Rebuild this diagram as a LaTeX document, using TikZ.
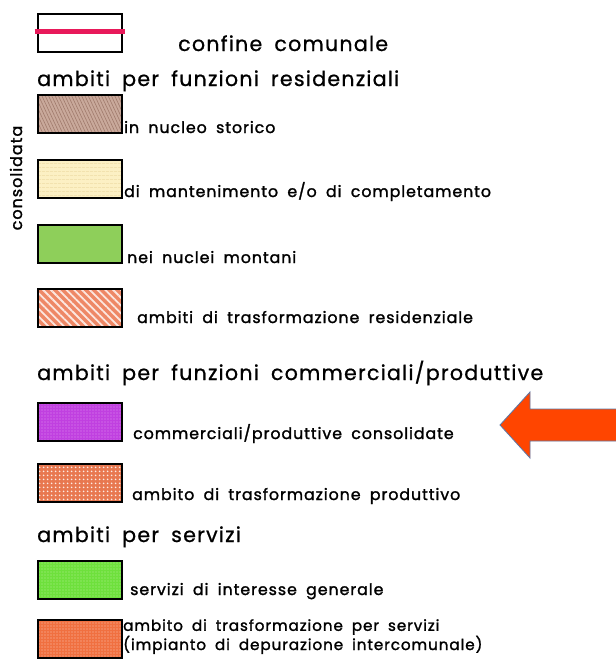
\documentclass[tikz,border=0pt]{standalone}
\usepackage{fontspec}
\newfontfamily\cadfont{Poppins}[LetterSpace=6,WordSpace=1.8,FakeBold=0.8]
\newfontfamily\cadbold{Poppins}[LetterSpace=6,WordSpace=1.8,FakeBold=1.5]
\usetikzlibrary{patterns.meta}

% legend colours
\definecolor{confred}{HTML}{E8195A}
\definecolor{storico}{HTML}{C9A99B}
\definecolor{storicoln}{HTML}{A07A6C}
\definecolor{manten}{HTML}{FCF0C4}
\definecolor{mantenln}{HTML}{EEDCA4}
\definecolor{montani}{HTML}{8ECF5A}
\definecolor{trasres}{HTML}{EE8866}
\definecolor{commcons}{HTML}{C040E0}
\definecolor{commdot}{HTML}{E090F0}
\definecolor{trasprod}{HTML}{E87850}
\definecolor{servgen}{HTML}{6EE03C}
\definecolor{servdot}{HTML}{B0F090}
\definecolor{trasserv}{HTML}{F07040}
\definecolor{arrowfill}{HTML}{FF4500}
\definecolor{arrowline}{HTML}{5A78A8}

\begin{document}
\begin{tikzpicture}[x=1pt,y=-1pt,
  swatch/.style={draw=black, line width=2pt, minimum width=84pt,
    minimum height=38pt, inner sep=0pt},
  hatched/.style={postaction={pattern={#1}},
    postaction={draw=black, line width=2pt}},
  heading/.style={anchor=base west, inner sep=0pt,
    font=\cadfont\fontsize{20.6}{24}\selectfont},
  lbl/.style={anchor=base west, inner sep=0pt,
    font=\cadbold\fontsize{15.8}{18}\selectfont}]

  \useasboundingbox[fill=white] (0,0) rectangle (616,659);

%%%%%%%%%%%%%%%%%%%%%%%%%%%%%%%%%%%%%%%%%%
  % Boundary
  \node[swatch, fill=white] (confine) at (79.5,33) {};
  \draw[confred, line width=5pt]
    ([xshift=-2pt,yshift=2pt]confine.west) -- ([xshift=2pt,yshift=2pt]confine.east);
  \node[heading] (confineLbl) at (178,51) {confine comunale};

%%%%%%%%%%%%%%%%%%%%%%%%%%%%%%%%%%%%%%%%%%
  % Residential
  \node[heading] (resTitle) at (37,86) {ambiti per funzioni residenziali};

  \node[swatch, fill=storico, pattern color=storicoln,
    hatched={Lines[angle=-65,distance=3pt,line width=0.6pt]}] (storico) at (79.5,114) {};
  \node[lbl] (storicoLbl) at (124,133) {in nucleo storico};

  \node[swatch, fill=manten, pattern color=mantenln,
    hatched={Lines[angle=0,distance=4pt,line width=0.7pt]}] (manten) at (79.5,179) {};
  \node[lbl] (mantenLbl) at (124,197) {di mantenimento e/o di completamento};

  \node[swatch, fill=montani] (montani) at (79.5,243.5) {};
  \node[lbl] (montaniLbl) at (127,263) {nei nuclei montani};

  \node[swatch, fill=trasres, pattern color=white!80!trasres,
    hatched={Lines[angle=-45,distance=5.5pt,line width=1.8pt]}] (trasres) at (79.5,307.5) {};
  \node[lbl] (trasresLbl) at (137,323) {ambiti di trasformazione residenziale};

  % side note
  \node[rotate=90, inner sep=0pt, font=\cadbold\fontsize{16}{18}\selectfont]
    (consolidata) at (16,178) {consolidata};

%%%%%%%%%%%%%%%%%%%%%%%%%%%%%%%%%%%%%%%%%%
  % Commercial / productive
  \node[heading] (prodTitle) at (37,380) {ambiti per funzioni commerciali/produttive};

  \node[swatch, fill=commcons, pattern color=commdot,
    hatched={Dots[radius=0.7pt,distance=3pt]}] (commcons) at (79.5,421.5) {};
  \node[lbl] (commconsLbl) at (133,439) {commerciali/produttive consolidate};

  \node[swatch, fill=trasprod, pattern color=white!85!trasprod,
    hatched={Dots[radius=1.1pt,distance=4pt]}] (trasprod) at (79.5,483) {};
  \node[lbl] (trasprodLbl) at (132,500) {ambito di trasformazione produttivo};

%%%%%%%%%%%%%%%%%%%%%%%%%%%%%%%%%%%%%%%%%%
  % Services
  \node[heading] (servTitle) at (37,542) {ambiti per servizi};

  \node[swatch, fill=servgen, pattern color=servdot,
    hatched={Dots[radius=0.6pt,distance=3pt]}] (servgen) at (79.5,579.5) {};
  \node[lbl] (servgenLbl) at (130,595) {servizi di interesse generale};

  \node[swatch, fill=trasserv, pattern color=white!60!trasserv,
    hatched={Dots[radius=0.6pt,distance=3pt]}] (trasserv) at (79.5,639) {};
  \node[lbl, align=left, font=\cadbold\fontsize{15.2}{14}\selectfont]
    (trasservLbl) at (123,650)
    {ambito di trasformazione per servizi\\(impianto di depurazione intercomunale)};

%%%%%%%%%%%%%%%%%%%%%%%%%%%%%%%%%%%%%%%%%%
  % Pointer
  \fill[arrowfill] (500,425) -- (530,392) -- (530,409) -- (625,409)
    -- (625,441) -- (530,441) -- (530,458) -- cycle;
  \draw[arrowline, line width=0.8pt] (625,409) -- (530,409) -- (530,392)
    -- (500,425) -- (530,458) -- (530,441) -- (625,441);

\end{tikzpicture}
\end{document}
